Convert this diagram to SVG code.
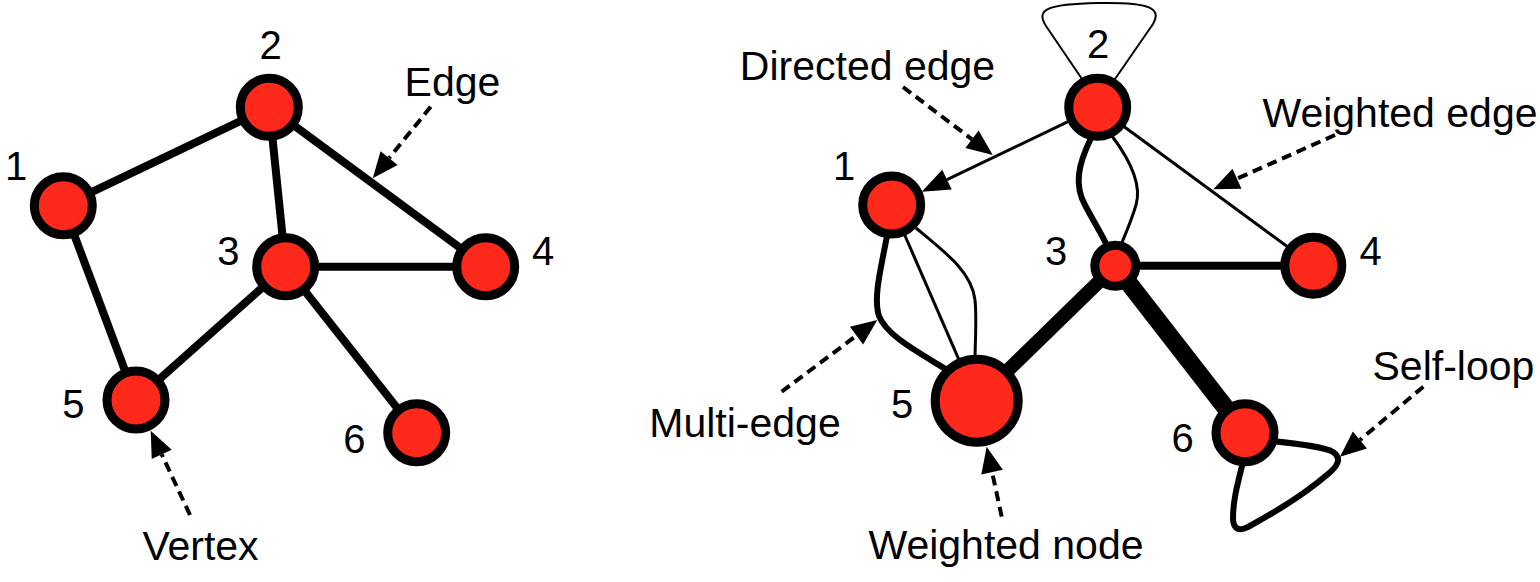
<svg xmlns="http://www.w3.org/2000/svg" width="1540" height="582" viewBox="0 0 1540 582">
  <style>
    .node { fill: #fe281b; stroke: #000; stroke-width: 9; }
    .edge { fill: none; stroke: #000; stroke-linecap: butt; }
    .note { fill: none; stroke: #000; stroke-width: 4; stroke-dasharray: 10 6; }
    .lbl { font-family: "Liberation Sans", Arial, Helvetica, sans-serif; font-size: 40px; fill: #000; text-anchor: middle; }
    .txt { font-family: "Liberation Sans", Arial, Helvetica, sans-serif; font-size: 41px; fill: #000; text-anchor: middle; }
  </style>
  <defs>
    <marker id="head" markerUnits="userSpaceOnUse" markerWidth="26" markerHeight="24" viewBox="0 -12 26 24" refX="0" refY="0" orient="auto" overflow="visible">
      <path d="M0,-11 L26,0 L0,11 Z" fill="#000"/>
    </marker>
    <marker id="head-solid" markerUnits="userSpaceOnUse" markerWidth="28" markerHeight="24" viewBox="0 -12 28 24" refX="0" refY="0" orient="auto" overflow="visible">
      <path d="M0,-11 L28,0 L0,11 Z" fill="#000"/>
    </marker>
  </defs>

  <!-- Simple undirected graph (left) -->
  <g id="connectors-left">
    <line class="edge" stroke-width="8" x1="63.3" y1="205.7" x2="269.3" y2="107.3"/>
    <line class="edge" stroke-width="8" x1="269.3" y1="107.3" x2="285.7" y2="266.7"/>
    <line class="edge" stroke-width="8" x1="269.3" y1="107.3" x2="485.7" y2="266.7"/>
    <line class="edge" stroke-width="8" x1="285.7" y1="266.7" x2="485.7" y2="266.7"/>
    <line class="edge" stroke-width="8" x1="63.3" y1="205.7" x2="136" y2="400"/>
    <line class="edge" stroke-width="8" x1="285.7" y1="266.7" x2="136" y2="400"/>
    <line class="edge" stroke-width="8" x1="285.7" y1="266.7" x2="416.7" y2="432.7"/>
  </g>
  <g id="L1"><circle class="node" cx="63.3" cy="205.7" r="29"/><text class="lbl" x="16" y="180">1</text></g>
  <g id="L2"><circle class="node" cx="269.3" cy="107.3" r="29"/><text class="lbl" x="270.7" y="59">2</text></g>
  <g id="L3"><circle class="node" cx="285.7" cy="266.7" r="29"/><text class="lbl" x="228.3" y="265">3</text></g>
  <g id="L4"><circle class="node" cx="485.7" cy="266.7" r="29"/><text class="lbl" x="543" y="265">4</text></g>
  <g id="L5"><circle class="node" cx="136" cy="400" r="29"/><text class="lbl" x="73.3" y="418">5</text></g>
  <g id="L6"><circle class="node" cx="416.7" cy="432.7" r="29"/><text class="lbl" x="354.3" y="452.5">6</text></g>

  <!-- Graph with directed, weighted, multi-edges and self-loops (right) -->
  <g id="connectors-right">
    <!-- self-loop on 2 -->
    <path class="edge" stroke-width="2" d="M1082,79 L1046,26 C1036,10 1045,4 1098,3 C1150,2 1162,8 1153,24 L1115,79"/>
    <!-- directed 2 -> 1 -->
    <line class="edge" stroke-width="3" x1="1097.7" y1="107.3" x2="947" y2="179.7" marker-end="url(#head-solid)"/>
    <!-- multi-edge 2 - 3 -->
    <path class="edge" stroke-width="6" d="M1091,138 C1078,165 1074,185 1085,205 C1095,224 1103,236 1108,248"/>
    <path class="edge" stroke-width="3" d="M1112,136 C1130,160 1142,185 1136,205 C1131,222 1125,235 1120,247"/>
    <!-- weighted edges -->
    <line class="edge" stroke-width="3" x1="1097.7" y1="107.3" x2="1313.3" y2="265.7"/>
    <line class="edge" stroke-width="8" x1="1115.3" y1="265.7" x2="1313.3" y2="265.7"/>
    <line class="edge" stroke-width="14" x1="1115.3" y1="265.7" x2="976.7" y2="400.7"/>
    <line class="edge" stroke-width="18" x1="1115.3" y1="265.7" x2="1245" y2="432.7"/>
    <!-- multi-edge 1 - 5 -->
    <path class="edge" stroke-width="6" d="M887,236 C881,268 873,298 879,316 C887,336 918,352 947,370"/>
    <line class="edge" stroke-width="3" x1="891.7" y1="205" x2="976.7" y2="400.7"/>
    <path class="edge" stroke-width="3" d="M916,228 C945,252 972,272 975,300 C977,320 975,340 975,362"/>
    <!-- self-loop on 6 -->
    <path class="edge" stroke-width="6" d="M1272,441 C1300,444 1325,447 1333,452 C1342,458 1338,466 1328,474 C1305,494 1270,515 1248,527 C1238,532 1233,528 1233,518 C1233,500 1238,482 1243,462"/>
  </g>
  <g id="R1"><circle class="node" cx="891.7" cy="205" r="29"/><text class="lbl" x="844" y="180">1</text></g>
  <g id="R2"><circle class="node" cx="1097.7" cy="107.3" r="29"/><text class="lbl" x="1098" y="58">2</text></g>
  <g id="R3"><circle class="node" cx="1115.3" cy="265.7" r="20.5" stroke-width="8.5"/><text class="lbl" x="1056" y="265">3</text></g>
  <g id="R4"><circle class="node" cx="1313.3" cy="265.7" r="28.5"/><text class="lbl" x="1370.7" y="265">4</text></g>
  <g id="R5"><circle class="node" cx="976.7" cy="400.7" r="41.5"/><text class="lbl" x="902" y="418">5</text></g>
  <g id="R6"><circle class="node" cx="1245" cy="432.7" r="29"/><text class="lbl" x="1182.7" y="451.7">6</text></g>

  <!-- Annotations -->
  <g id="annotations">
    <g id="note-edge">
      <text class="txt" x="452.5" y="96">Edge</text>
      <line class="note" x1="430.7" y1="106.7" x2="389.1" y2="158.1" marker-end="url(#head)"/>
    </g>
    <g id="note-vertex">
      <text class="txt" x="200.5" y="560">Vertex</text>
      <line class="note" x1="190" y1="515" x2="161.7" y2="454.3" marker-end="url(#head)"/>
    </g>
    <g id="note-directed">
      <text class="txt" x="867.5" y="80">Directed edge</text>
      <line class="note" x1="903" y1="87" x2="972" y2="139.3" marker-end="url(#head)"/>
    </g>
    <g id="note-weighted-edge">
      <text class="txt" x="1400" y="127">Weighted edge</text>
      <line class="note" x1="1335" y1="135" x2="1237" y2="178.7" marker-end="url(#head)"/>
    </g>
    <g id="note-multi">
      <text class="txt" x="745" y="437">Multi-edge</text>
      <line class="note" x1="781.7" y1="391.7" x2="856.5" y2="335.6" marker-end="url(#head)"/>
    </g>
    <g id="note-weighted-node">
      <text class="txt" x="1006" y="559">Weighted node</text>
      <line class="note" x1="1001.7" y1="516.7" x2="992.1" y2="472.1" marker-end="url(#head)"/>
    </g>
    <g id="note-self-loop">
      <text class="txt" x="1453.4" y="380">Self-loop</text>
      <line class="note" x1="1423.3" y1="386.7" x2="1359.9" y2="440" marker-end="url(#head)"/>
    </g>
  </g>
</svg>
